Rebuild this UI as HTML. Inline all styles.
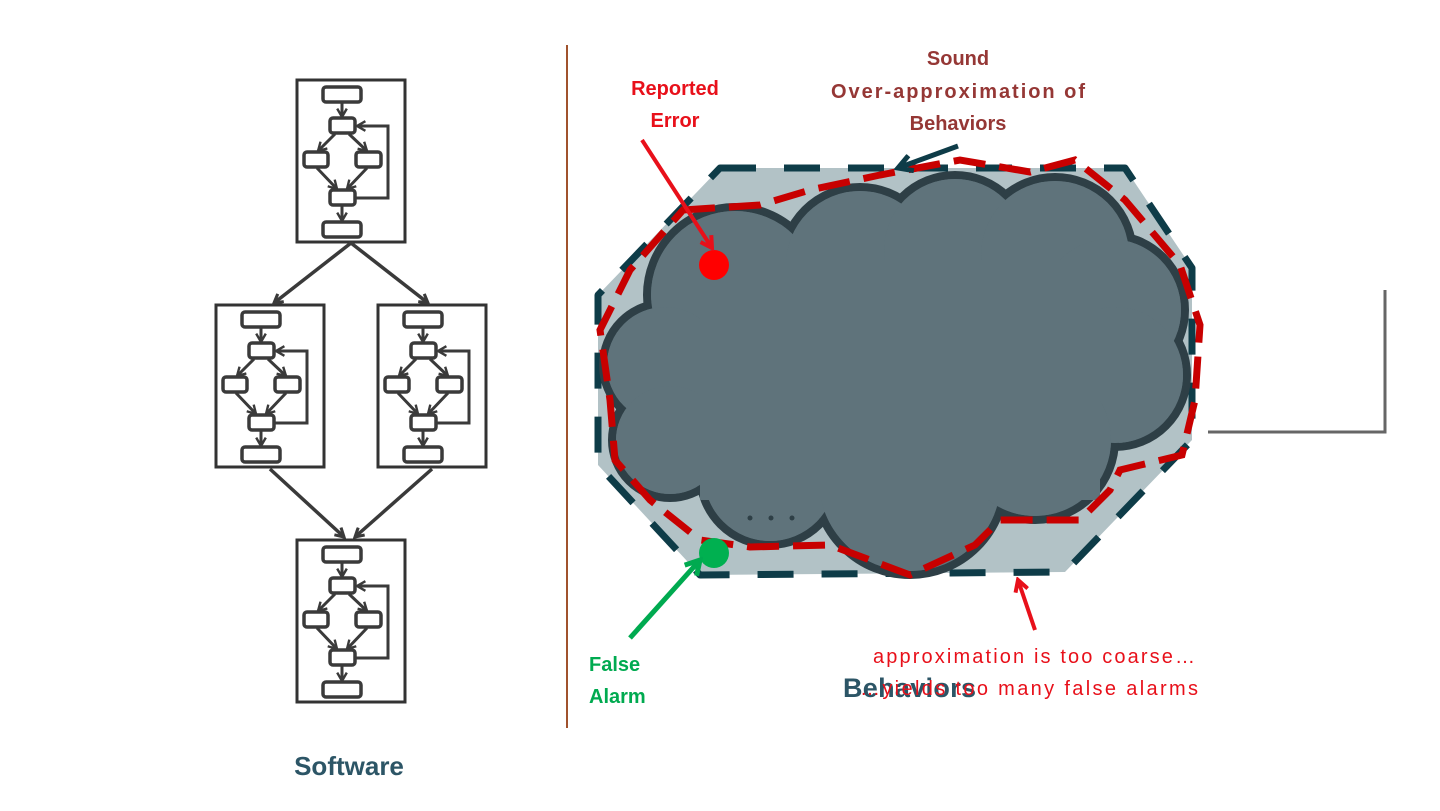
<!DOCTYPE html>
<html><head><meta charset="utf-8"><style>
html,body{margin:0;padding:0;background:#fff;}
svg{display:block;font-family:"Liberation Sans",sans-serif;}
</style></head><body>
<svg width="1440" height="811" viewBox="0 0 1440 811" xmlns="http://www.w3.org/2000/svg">
<defs>
<marker id="chev" viewBox="0 0 10 10" refX="8" refY="5" markerWidth="4" markerHeight="4" orient="auto">
<path d="M1,1 L8,5 L1,9" fill="none" stroke="#3a3a3a" stroke-width="2"/></marker>
<marker id="chevB" viewBox="0 0 10 10" refX="8" refY="5" markerWidth="3.5" markerHeight="3.5" orient="auto">
<path d="M1,1 L8,5 L1,9" fill="none" stroke="#3a3a3a" stroke-width="2.5"/></marker>
<marker id="arrR" viewBox="0 0 10 10" refX="8" refY="5" markerWidth="4" markerHeight="4" orient="auto">
<path d="M1,1 L8,5 L1,9" fill="none" stroke="#e8101a" stroke-width="2.5"/></marker>
<marker id="arrG" viewBox="0 0 10 10" refX="8" refY="5" markerWidth="4" markerHeight="4" orient="auto">
<path d="M1,1 L8,5 L1,9" fill="none" stroke="#00aa50" stroke-width="2.5"/></marker>
<marker id="arrD" viewBox="0 0 10 10" refX="8" refY="5" markerWidth="4" markerHeight="4" orient="auto">
<path d="M1,1 L8,5 L1,9" fill="none" stroke="#0e3c48" stroke-width="2.5"/></marker>
<g id="fg">
<rect x="0" y="0" width="108" height="162" fill="#fff" stroke="#333" stroke-width="3"/>
<g fill="#fff" stroke="#3a3a3a" stroke-width="3.5">
<rect x="26" y="7" width="38" height="15" rx="3"/>
<rect x="33" y="38" width="25" height="15" rx="3"/>
<rect x="7" y="72" width="24" height="15" rx="3"/>
<rect x="59" y="72" width="25" height="15" rx="3"/>
<rect x="33" y="110" width="25" height="15" rx="3"/>
<rect x="26" y="142" width="38" height="15" rx="3"/>
</g>
<g fill="none" stroke="#3a3a3a" stroke-width="3" marker-end="url(#chev)">
<line x1="45" y1="23" x2="45" y2="37"/>
<line x1="38" y1="54" x2="21" y2="71"/>
<line x1="52" y1="54" x2="70" y2="71"/>
<line x1="20" y1="88" x2="40" y2="109"/>
<line x1="70" y1="88" x2="50" y2="109"/>
<line x1="45" y1="126" x2="45" y2="141"/>
<polyline points="58,118 91,118 91,46 60,46"/>
</g>
</g>
</defs>

<!-- Software side -->
<use href="#fg" x="297" y="80"/>
<use href="#fg" x="216" y="305"/>
<use href="#fg" x="378" y="305"/>
<use href="#fg" x="297" y="540"/>
<g stroke="#3a3a3a" stroke-width="3.5" fill="none" marker-end="url(#chevB)">
<line x1="351" y1="243" x2="274" y2="303"/>
<line x1="351" y1="243" x2="428" y2="303"/>
<line x1="270" y1="469" x2="344" y2="537"/>
<line x1="432" y1="469" x2="355" y2="537"/>
</g>
<text x="349" y="775" font-size="26" font-weight="bold" fill="#2c5566" text-anchor="middle">Software</text>

<!-- divider -->
<line x1="567" y1="45" x2="567" y2="728" stroke="#a0522d" stroke-width="2"/>

<!-- bracket -->
<polyline points="1385,290 1385,432 1208,432" fill="none" stroke="#666" stroke-width="3"/>

<!-- octagon -->
<polygon points="720,168 1125,168 1192,268 1192,440 1065,572 700,575 598,465 598,295" fill="#b2c2c6" stroke="#0e3c48" stroke-width="7" stroke-dasharray="36,28" stroke-linejoin="round"/>

<!-- cloud -->
<g fill="#5f737b" stroke="#2e3f46" stroke-width="8">
<circle cx="735" cy="295" r="88"/><circle cx="860" cy="265" r="78"/><circle cx="955" cy="250" r="75"/>
<circle cx="1055" cy="255" r="78"/><circle cx="1110" cy="310" r="75"/><circle cx="1115" cy="375" r="72"/>
<circle cx="665" cy="365" r="62"/><circle cx="670" cy="440" r="58"/><circle cx="770" cy="475" r="70"/>
<circle cx="910" cy="480" r="95"/><circle cx="1035" cy="440" r="80"/>
</g>
<g fill="#5f737b">
<circle cx="735" cy="295" r="84"/><circle cx="860" cy="265" r="74"/><circle cx="955" cy="250" r="71"/>
<circle cx="1055" cy="255" r="74"/><circle cx="1110" cy="310" r="71"/><circle cx="1115" cy="375" r="68"/>
<circle cx="665" cy="365" r="58"/><circle cx="670" cy="440" r="54"/><circle cx="770" cy="475" r="66"/>
<circle cx="910" cy="480" r="91"/><circle cx="1035" cy="440" r="76"/>
<rect x="700" y="260" width="400" height="240"/>
</g>

<!-- grid -->
<g id="grid"></g>
<g fill="#2e3f46">
<circle cx="750" cy="518" r="2.5"/><circle cx="771" cy="518" r="2.5"/><circle cx="792" cy="518" r="2.5"/>
</g>

<!-- red dashed outline -->
<polygon points="683,210 760,205 810,190 880,175 960,160 1030,172 1075,160 1125,200 1180,265 1200,325 1195,400 1182,455 1120,470 1110,490 1080,520 1000,520 975,545 910,575 830,545 750,547 700,540 650,500 615,460 610,400 600,330 630,270" fill="none" stroke="#c80000" stroke-width="7" stroke-dasharray="32,14"/>

<!-- dots -->
<circle cx="714" cy="265" r="15" fill="#ff0000"/>
<circle cx="714" cy="553" r="15" fill="#00b050"/>

<!-- arrows -->
<line x1="642" y1="140" x2="712" y2="248" stroke="#e8101a" stroke-width="4" marker-end="url(#arrR)"/>
<line x1="630" y1="638" x2="700" y2="560" stroke="#00aa50" stroke-width="5" marker-end="url(#arrG)"/>
<line x1="958" y1="146" x2="898" y2="168" stroke="#0e3c48" stroke-width="5" marker-end="url(#arrD)"/>
<line x1="1035" y1="630" x2="1018" y2="580" stroke="#e8101a" stroke-width="4" marker-end="url(#arrR)"/>

<!-- labels -->
<g font-weight="bold" font-size="20" text-anchor="middle">
<text x="675" y="95" fill="#e8101a">Reported</text>
<text x="675" y="127" fill="#e8101a">Error</text>
<text x="958" y="65" fill="#953735">Sound</text>
<text x="958" y="98" fill="#953735" textLength="254">Over-approximation of</text>
<text x="958" y="130" fill="#953735">Behaviors</text>
</g>
<g font-weight="bold" font-size="20" fill="#00aa50">
<text x="589" y="671">False</text>
<text x="589" y="703">Alarm</text>
</g>
<text x="843" y="697" font-size="27" font-weight="bold" fill="#2c5566" textLength="133">Behaviors</text>
<g font-size="20" fill="#e8101a">
<text x="873" y="663" textLength="322">approximation is too coarse…</text>
<text x="860" y="695" textLength="338">…yields too many false alarms</text>
</g>

<script>
(function(){
var ns="http://www.w3.org/2000/svg",g=document.getElementById("grid");
var rows=[243,277,311,344,378,411,445,479],cnt=[3,3,6,6,9,9,9,9];
for(var r=0;r<rows.length;r++){for(var i=0;i<cnt[r];i++){
var cx=744+38*i,cy=rows[r];
if(i<cnt[r]-1){var t=document.createElementNS(ns,"path");
t.setAttribute("d","M"+(cx+10)+","+(cy-7)+" L"+(cx+24)+","+cy+" L"+(cx+10)+","+(cy+7)+"Z");
t.setAttribute("fill","#2e3f46");g.appendChild(t);}
var s=document.createElementNS(ns,"rect");
s.setAttribute("x",cx-10);s.setAttribute("y",cy-10);s.setAttribute("width",20);s.setAttribute("height",20);
s.setAttribute("rx",4);s.setAttribute("fill","#b2c2c6");s.setAttribute("stroke","#2e3f46");s.setAttribute("stroke-width",4);
g.appendChild(s);}}
})();
</script>
</svg>
</body></html>
